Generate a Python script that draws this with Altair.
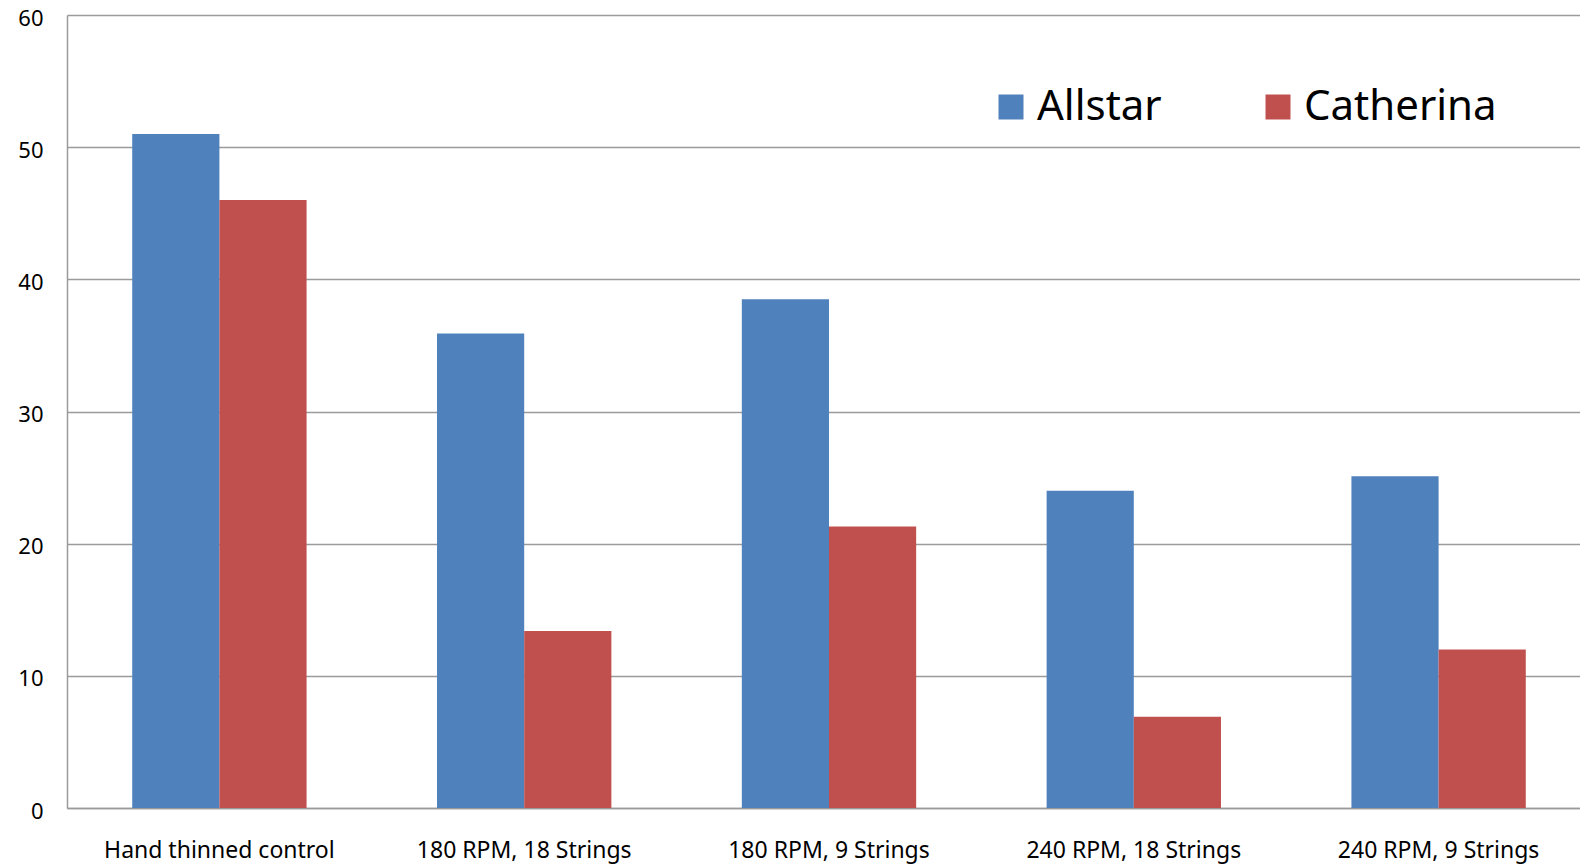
import altair as alt
import pandas as pd

categories = ["Hand thinned control", "180 RPM, 18 Strings", "180 RPM, 9 Strings",
              "240 RPM, 18 Strings", "240 RPM, 9 Strings"]
series = ["Allstar", "Catherina"]
allstar = [51.0, 35.9, 38.5, 24.0, 25.1]
catherina = [46.0, 13.4, 21.3, 6.9, 12.0]
colors = ["#4F81BD", "#C0504D"]
y_ticks = [0, 10, 20, 30, 40, 50, 60]

rows = []
for c, a, b in zip(categories, allstar, catherina):
    rows.append({"category": c, "series": series[0], "value": a})
    rows.append({"category": c, "series": series[1], "value": b})
df = pd.DataFrame(rows)

FONT = "Noto Sans"

chart = alt.Chart(df).mark_bar().encode(
    x=alt.X("category:N", sort=categories,
            scale=alt.Scale(range=[0, 1524], paddingInner=0.428, paddingOuter=0.214),
            axis=alt.Axis(title=None, labelAngle=0, labelFontSize=23, labelFont=FONT,
                          labelColor="#000000", ticks=False, domainColor="#9a9a9a",
                          domainWidth=1.5, labelPadding=31, labelBaseline="top",
                          labelLimit=0)),
    xOffset=alt.XOffset("series:N", sort=series,
                        scale=alt.Scale(paddingInner=0, paddingOuter=0)),
    y=alt.Y("value:Q", scale=alt.Scale(domain=[0, 60], nice=False),
            axis=alt.Axis(title=None, values=y_ticks, labelFontSize=22, labelFont=FONT,
                          labelColor="#000000", ticks=False, domainColor="#9a9a9a",
                          domainWidth=1.5, gridColor="#9a9a9a", gridWidth=1.5,
                          labelPadding=24, labelOffset=3, grid=True)),
    color=alt.Color("series:N", sort=series,
                    scale=alt.Scale(domain=series, range=colors),
                    legend=alt.Legend(title=None, orient="none", legendX=923, legendY=71,
                                      direction="horizontal", symbolType="square",
                                      symbolSize=625, symbolStrokeWidth=0,
                                      symbolOpacity=1, labelFontSize=42, labelFont=FONT,
                                      labelColor="#000000", labelOffset=5, labelLimit=0,
                                      columnPadding=95, padding=0)),
).properties(
    width=1513, height=793,
    autosize=alt.AutoSizeParams(type="none"),
    padding={"left": 67, "top": 15, "right": 0, "bottom": 57},
).configure_view(stroke=None).configure_axis(gridOpacity=1)

chart.save("out.html", embed_options={"renderer": "svg", "actions": False})
